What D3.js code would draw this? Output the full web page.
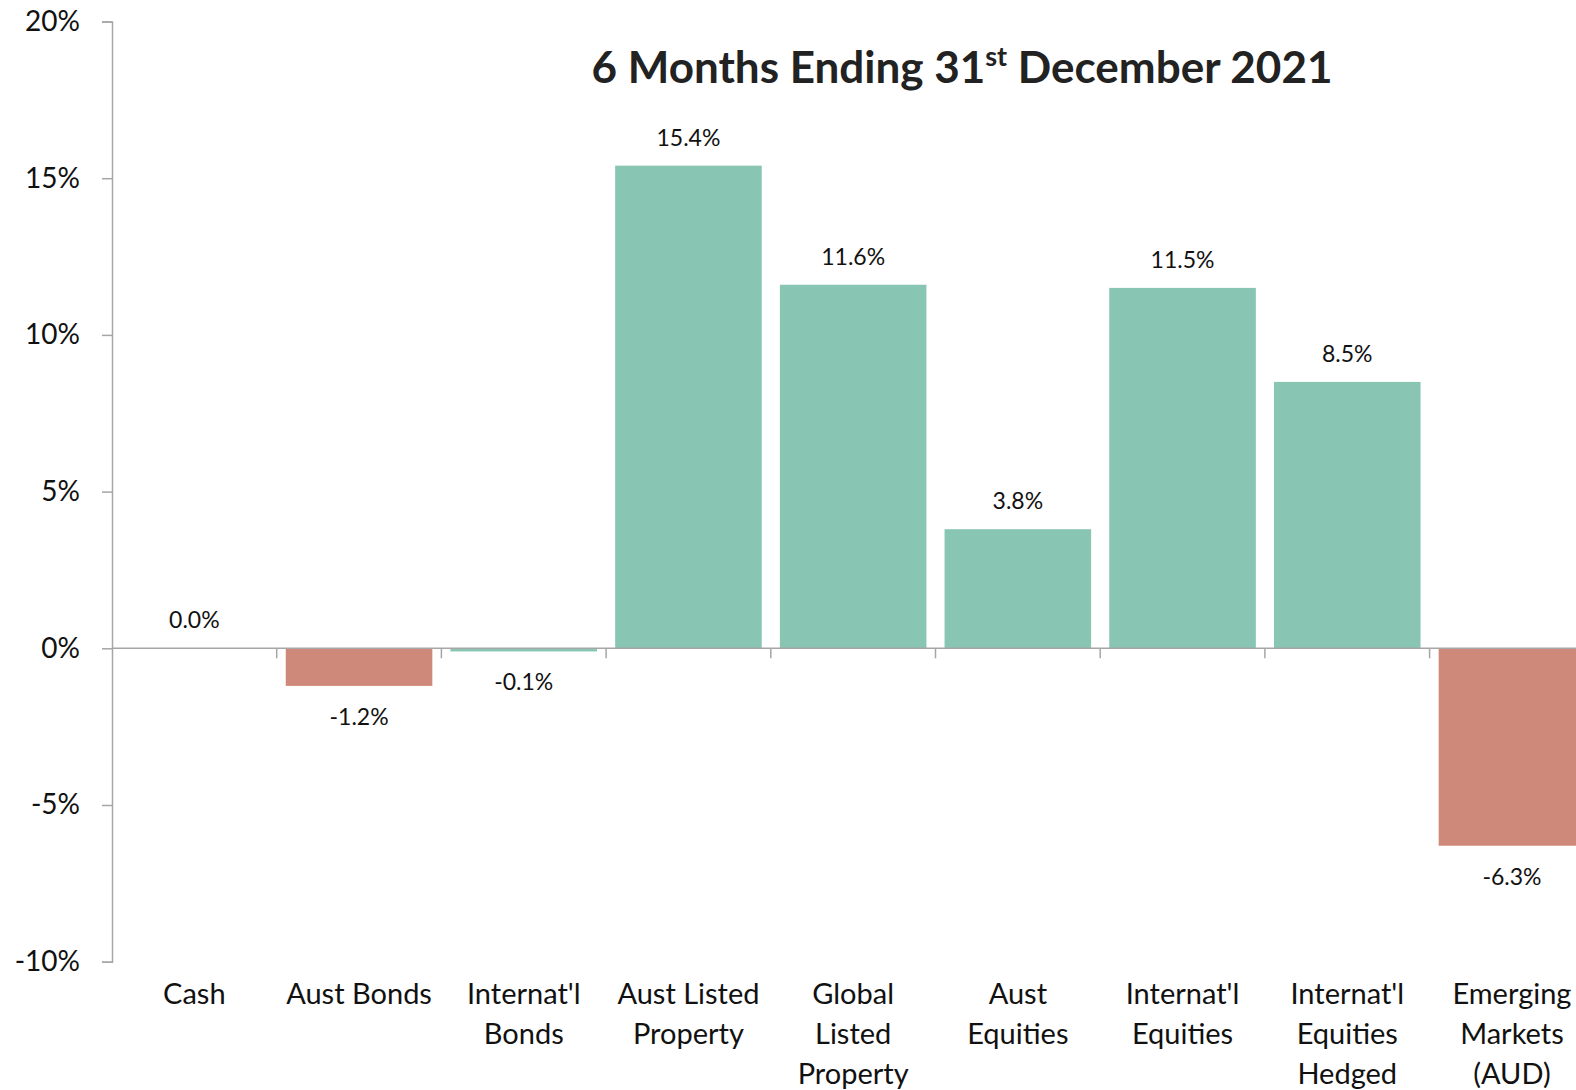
<!DOCTYPE html>
<html lang="en">
<head>
<meta charset="utf-8">
<title>6 Months Ending 31st December 2021</title>
<script src="https://d3js.org/d3.v7.min.js"></script>
<style>
  html, body { margin: 0; padding: 0; background: #fff; overflow: hidden; }
  svg { display: block; font-family: Lato, "Open Sans", sans-serif; }
</style>
</head>
<body>
<svg id="chart" width="1576" height="1090"></svg>
<script>
// chart data
var categories = ["Cash", "Aust Bonds", "Internat'l Bonds", "Aust Listed Property",
  "Global Listed Property", "Aust Equities", "Internat'l Equities",
  "Internat'l Equities Hedged", "Emerging Markets (AUD)"];
var returns = [0.0, -1.2, -0.1, 15.4, 11.6, 3.8, 11.5, 8.5, -6.3];
var yTicks = [20, 15, 10, 5, 0, -5, -10];
// how each category label wraps
var labelLines = [["Cash"], ["Aust Bonds"], ["Internat'l", "Bonds"], ["Aust Listed", "Property"],
  ["Global", "Listed", "Property"], ["Aust", "Equities"], ["Internat'l", "Equities"],
  ["Internat'l", "Equities", "Hedged"], ["Emerging", "Markets", "(AUD)"]];

var svg = d3.select('#chart');
var plotLeft = 112, bandW = 164.7;
var plotTop = 21.5, plotBottom = 961.7;

var x = d3.scaleBand().domain(categories)
  .range([plotLeft, plotLeft + bandW * categories.length])
  .paddingInner(0.11).paddingOuter(0.055);
var y = d3.scaleLinear().domain([-10, 20]).range([plotBottom, plotTop]);

var green = '#88c5b3', red = '#cf897b', grey = '#a6a6a6';

// bars
svg.append('g').selectAll('rect')
  .data(returns)
  .enter()
  .append('rect')
  .attr('x', function(d, i) { return x(categories[i]); })
  .attr('width', x.bandwidth())
  .attr('y', function(d) { return y(Math.max(0, d)); })
  .attr('height', function(d) { return Math.abs(y(d) - y(0)); })
  .style('fill', function(d) { return d < -0.5 ? red : green; });

// y axis
var yAxis = svg.append('g')
  .attr('transform', 'translate(' + plotLeft + ',0)')
  .call(d3.axisLeft(y).tickValues(yTicks).tickSize(10).tickPadding(22)
    .tickFormat(function(d) { return d + '%'; }));
yAxis.select('.domain').attr('stroke', grey).attr('stroke-width', 1.5);
yAxis.selectAll('.tick line').attr('stroke', grey).attr('stroke-width', 1.5);
yAxis.selectAll('.tick text')
  .style('font-size', '28px').style('font-family', 'Lato').attr('fill', '#111');

// zero line with category ticks
var xAxis = svg.append('g')
  .attr('transform', 'translate(0,' + y(0) + ')');
xAxis.append('line')
  .attr('x1', plotLeft).attr('x2', 1576)
  .attr('stroke', grey).attr('stroke-width', 1.5);
xAxis.selectAll('.ctick')
  .data(categories.slice(1))
  .enter()
  .append('line')
  .attr('class', 'ctick')
  .attr('x1', function(d) { return x(d) - x.step() * x.paddingInner() / 2; })
  .attr('x2', function(d) { return x(d) - x.step() * x.paddingInner() / 2; })
  .attr('y1', 0).attr('y2', 10)
  .attr('stroke', grey).attr('stroke-width', 1.5);

// value labels
svg.append('g').selectAll('text')
  .data(returns)
  .enter()
  .append('text')
  .attr('x', function(d, i) { return x(categories[i]) + x.bandwidth() / 2; })
  .attr('y', function(d) { return d >= 0 ? y(d) - 20 : y(d) + 39; })
  .attr('text-anchor', 'middle')
  .style('font-size', '23px')
  .attr('fill', '#111')
  .text(function(d) { return d.toFixed(1) + '%'; });

// category labels
var catG = svg.append('g').selectAll('text')
  .data(categories)
  .enter()
  .append('text')
  .attr('x', function(d) { return x(d) + x.bandwidth() / 2; })
  .attr('y', 1004)
  .attr('text-anchor', 'middle')
  .style('font-size', '29px')
  .attr('fill', '#111');
catG.selectAll('tspan')
  .data(function(d, i) { return labelLines[i]; })
  .enter()
  .append('tspan')
  .attr('x', function() { return d3.select(this.parentNode).attr('x'); })
  .attr('dy', function(d, i) { return i === 0 ? 0 : 40; })
  .text(function(d) { return d; });

// title
var title = svg.append('text')
  .attr('x', 962).attr('y', 83)
  .attr('text-anchor', 'middle')
  .style('font-size', '44px').style('font-weight', 'bold')
  .attr('fill', '#222');
title.append('tspan').text('6 Months Ending 31');
title.append('tspan').attr('dy', -17).style('font-size', '27px').text('st');
title.append('tspan').attr('dy', 17).text(' December 2021');
</script>
</body>
</html>
